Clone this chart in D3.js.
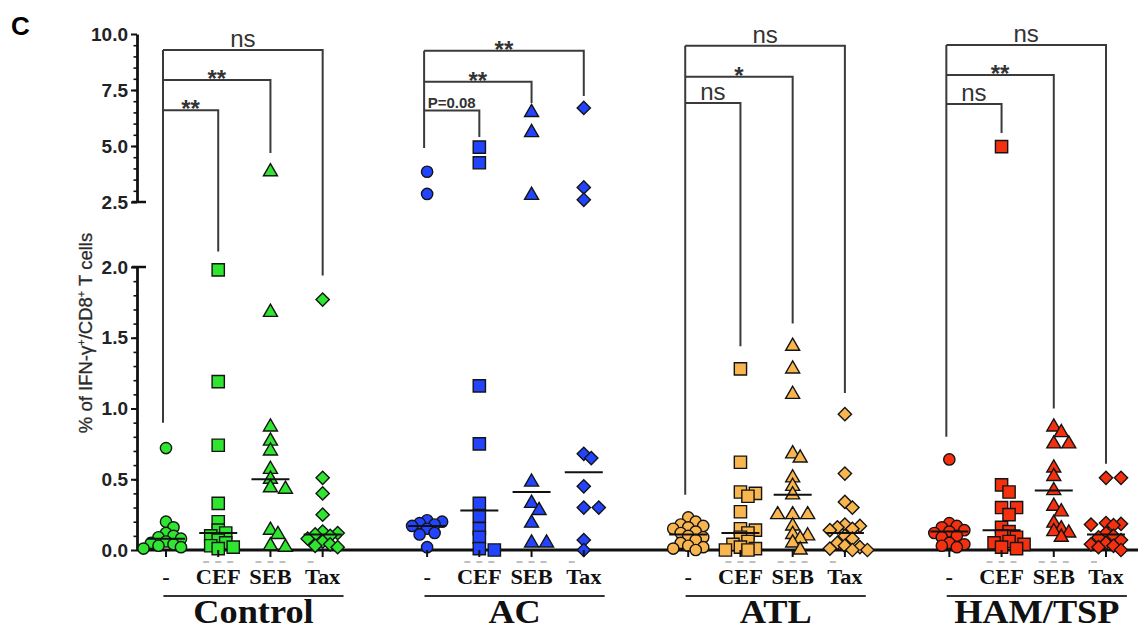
<!DOCTYPE html>
<html>
<head>
<meta charset="utf-8">
<script src="https://cdn.jsdelivr.net/npm/d3@7"></script>
<style>
  body { margin: 0; background: #fff; }
  text { font-family: Arial, "Liberation Sans", sans-serif; }
</style>
</head>
<body>
<div id="chart"></div>
<script>
// groups and stimuli
const groups = ["Control", "AC", "ATL", "HAM/TSP"];
const stimuli = ["-", "CEF", "SEB", "Tax"];
const groupColors = ["#2fe52f", "#2244ff", "#f9b54e", "#f5300f"];

// % of IFN-g+/CD8+ T cells, one list per stimulus
const controlValues = [
  [0.72, 0.2, 0.16, 0.12, 0.1, 0.09, 0.08, 0.06, 0.05, 0.04, 0.03, 0.02, 0.01],
  [1.98, 1.19, 0.74, 0.33, 0.2, 0.14, 0.12, 0.1, 0.07, 0.05, 0.03, 0.02, 0.01],
  [3.85, 1.68, 0.87, 0.77, 0.7, 0.57, 0.5, 0.44, 0.43, 0.14, 0.11, 0.03, 0.02],
  [1.77, 0.51, 0.4, 0.25, 0.13, 0.12, 0.11, 0.1, 0.08, 0.06, 0.04, 0.03, 0.02]
];
const acValues = [
  [3.85, 2.86, 0.21, 0.2, 0.19, 0.18, 0.17, 0.15, 0.12, 0.11, 0.02],
  [4.95, 4.25, 1.16, 0.75, 0.33, 0.24, 0.15, 0.09, 0.01, 0.0],
  [6.5, 5.6, 2.8, 0.48, 0.33, 0.28, 0.19, 0.05, 0.05],
  [6.7, 3.15, 2.6, 0.68, 0.65, 0.45, 0.3, 0.3, 0.07, 0.0]
];
const atlValues = [
  [0.23, 0.2, 0.18, 0.17, 0.16, 0.15, 0.13, 0.12, 0.1, 0.09, 0.07, 0.05, 0.03, 0.02, 0.01, 0.0],
  [1.28, 0.62, 0.41, 0.4, 0.38, 0.27, 0.15, 0.14, 0.12, 0.09, 0.06, 0.04, 0.02, 0.01, 0.0, 0.0],
  [1.44, 1.28, 1.1, 0.68, 0.65, 0.51, 0.45, 0.39, 0.25, 0.25, 0.25, 0.17, 0.11, 0.1, 0.08, 0.05, 0.0],
  [0.96, 0.54, 0.34, 0.3, 0.18, 0.17, 0.16, 0.15, 0.14, 0.1, 0.08, 0.05, 0.03, 0.02, 0.01, 0.0, 0.0]
];
const hamValues = [
  [0.64, 0.19, 0.17, 0.16, 0.14, 0.13, 0.12, 0.1, 0.09, 0.05, 0.04, 0.03, 0.02],
  [4.97, 0.46, 0.41, 0.3, 0.3, 0.25, 0.16, 0.13, 0.1, 0.09, 0.06, 0.05, 0.04, 0.02, 0.01],
  [0.87, 0.83, 0.75, 0.75, 0.58, 0.52, 0.42, 0.31, 0.27, 0.19, 0.15, 0.13, 0.12, 0.09],
  [0.51, 0.51, 0.19, 0.185, 0.18, 0.175, 0.12, 0.1, 0.09, 0.07, 0.05, 0.04, 0.03, 0.02, 0.0]
];

// median bars as drawn
const controlMedians = [0.08, 0.12, 0.5, 0.11];
const acMedians = [0.17, 0.28, 0.41, 0.55];
const atlMedians = [0.11, 0.12, 0.39, 0.12];
const hamMedians = [0.13, 0.14, 0.42, 0.11];

// significance brackets: "-" against Tax, SEB, CEF
const bracketTargets = [3, 2, 1];
const bracketLevels = [[9.29, 7.95, 6.6], [9.25, 7.87, 6.58], [9.48, 8.09, 6.92], [9.51, 8.17, 6.875]];
const bracketLabels = [["ns", "**", "**"], ["**", "**", "P=0.08"], ["ns", "*", "ns"], ["ns", "**", "ns"]];
const bracketLegEnds = [[1.94, 4.69, 2.11], [7.23, 6.92, 5.4], [1.11, 1.6, 1.44], [0.61, 1.0, 5.58]];
const bracketBaseEnds = [0.9, 4.91, 0.39, 0.8];

// axis ticks (broken axis)
const upperTicks = [2.5, 5.0, 7.5, 10.0];
const lowerTicks = [0.0, 0.5, 1.0, 1.5, 2.0];

const allValues = [controlValues, acValues, atlValues, hamValues];
const allMedians = [controlMedians, acMedians, atlMedians, hamMedians];

const width = 1140, height = 633;
const axisX = 137;

const svg = d3.select('#chart')
  .append('svg')
  .attr('width', width)
  .attr('height', height)
  .style('background-color', 'white');

const yLow = d3.scaleLinear().domain([0, 2]).range([550, 267]);
const yHigh = d3.scaleLinear().domain([2.5, 10]).range([202, 34]);
const y = v => v <= 2.25 ? yLow(v) : yHigh(v);

const x = d3.scaleLinear().domain([0, 18]).range([166, 1106]);
const slot = (g, s) => g * 5 + s;

// panel letter
svg.append('text')
  .attr('x', 11).attr('y', 35)
  .style('font-size', '26px').style('font-weight', 'bold')
  .text('C');

// y axis, two segments
function styleAxis(g) {
  g.select('.domain').attr('stroke', '#111').attr('stroke-width', 2.8);
  g.selectAll('.tick line').attr('stroke', '#111').attr('stroke-width', 2);
  g.selectAll('.tick text')
    .style('font-size', '19px').style('font-weight', 'bold')
    .style('font-family', 'Arial, "Liberation Sans", sans-serif')
    .attr('fill', '#222');
}

[[yHigh, upperTicks, d3.range(3, 10, 0.5)], [yLow, lowerTicks, d3.range(0.1, 2, 0.1)]]
  .forEach(([scale, major, minor]) => {
    svg.append('g')
      .attr('transform', `translate(${axisX},0)`)
      .call(d3.axisLeft(scale).tickValues(minor).tickSize(3.5).tickFormat(''))
      .call(g => g.select('.domain').remove())
      .call(g => g.selectAll('.tick line').attr('stroke', '#111').attr('stroke-width', 1.6));
    svg.append('g')
      .attr('transform', `translate(${axisX},0)`)
      .call(d3.axisLeft(scale).tickValues(major).tickFormat(d3.format('.1f'))
        .tickSize(6).tickSizeOuter(0).tickPadding(3))
      .call(styleAxis);
  });

// end caps at the break
[yHigh(2.5), yLow(2.0)].forEach(py => {
  svg.append('line')
    .attr('x1', axisX - 5).attr('x2', axisX + 9)
    .attr('y1', py).attr('y2', py)
    .attr('stroke', '#111').attr('stroke-width', 2.5);
});

// y label
const yLabel = svg.append('text')
  .attr('transform', `translate(92, 333) rotate(-90)`)
  .attr('text-anchor', 'middle')
  .style('font-size', '18.5px')
  .attr('fill', '#2a2a2a')
  .attr('stroke', '#2a2a2a').attr('stroke-width', 0.3);
yLabel.append('tspan').text('% of IFN-γ');
yLabel.append('tspan').attr('dy', -7).style('font-size', '11px').text('+');
yLabel.append('tspan').attr('dy', 7).text('/CD8');
yLabel.append('tspan').attr('dy', -7).style('font-size', '11px').text('+');
yLabel.append('tspan').attr('dy', 7).text(' T cells');

// x baseline
svg.append('line')
  .attr('x1', axisX).attr('x2', 1138)
  .attr('y1', yLow(0)).attr('y2', yLow(0))
  .attr('stroke', '#111').attr('stroke-width', 2.8);

// brackets
const bracketColor = '#3a3a3a';
groups.forEach((grp, g) => {
  const x0 = x(slot(g, 0)) - 3;
  svg.append('line')
    .attr('x1', x0).attr('x2', x0)
    .attr('y1', y(bracketLevels[g][0])).attr('y2', y(bracketBaseEnds[g]))
    .attr('stroke', bracketColor).attr('stroke-width', 2);
  bracketTargets.forEach((t, i) => {
    const x1 = x(slot(g, t));
    const ly = y(bracketLevels[g][i]);
    svg.append('path')
      .attr('d', `M${x0},${ly}H${x1}V${y(bracketLegEnds[g][i])}`)
      .attr('fill', 'none')
      .attr('stroke', bracketColor).attr('stroke-width', 2);
    const label = bracketLabels[g][i];
    const isStar = label.startsWith('*');
    const isP = label.startsWith('P');
    svg.append('text')
      .attr('x', (x0 + x1) / 2)
      .attr('y', isStar ? ly + 7 : ly - 3)
      .attr('text-anchor', 'middle')
      .style('font-size', isStar ? '24px' : (isP ? '15px' : '24px'))
      .style('font-weight', isStar || isP ? 'bold' : 'normal')
      .attr('fill', '#333')
      .text(label);
  });
});

// shapes
const symbolTypes = [d3.symbolCircle, d3.symbolSquare, d3.symbolTriangle, d3.symbolSquare];
const symbolSizes = [100, 150, 85, 88];
const symbolRotate = [0, 0, 0, 45];

// compact dodge: stacked points spread a little sideways and may overlap
function dodge(values, cx) {
  const placed = [];
  const order = values.map((v, i) => i).sort((a, b) => values[b] - values[a]);
  const step = 7.5, minDist = 8, maxK = 6;
  return order.map(i => {
    const py = y(values[i]);
    let best = null, bestScore = -1;
    for (let k = 0; k <= maxK; k++) {
      const off = (k % 2 ? 1 : -1) * Math.ceil(k / 2) * step;
      const px = cx + off;
      const near = placed.length ? d3.min(placed, p => Math.hypot(p[0] - px, p[1] - py)) : Infinity;
      if (near >= minDist) { best = px; break; }
      if (near > bestScore) { bestScore = near; best = px; }
    }
    placed.push([best, py]);
    return { v: values[i], px: best, py };
  });
}

groups.forEach((grp, g) => {
  stimuli.forEach((stim, s) => {
    const cx = x(slot(g, s));
    const pts = dodge(allValues[g][s], cx);
    svg.append('g')
      .selectAll('path')
      .data(pts)
      .enter().append('path')
      .attr('d', d3.symbol().type(symbolTypes[s]).size(symbolSizes[s]))
      .attr('transform', d => `translate(${d.px},${d.py}) rotate(${symbolRotate[s]})`)
      .attr('fill', groupColors[g])
      .attr('stroke', '#141414')
      .attr('stroke-width', 1.4);

    // median bar
    const my = y(allMedians[g][s]);
    svg.append('line')
      .attr('x1', cx - 19).attr('x2', cx + 19)
      .attr('y1', my).attr('y2', my)
      .attr('stroke', '#111').attr('stroke-width', 2);

    // tick under the axis
    svg.append('line')
      .attr('x1', cx).attr('x2', cx)
      .attr('y1', yLow(0)).attr('y2', yLow(0) + 7)
      .attr('stroke', '#111').attr('stroke-width', 2);

    // faint dashes
    const nDash = [0, 3, 3, 1][s];
    for (let d = 0; d < nDash; d++) {
      const dx = cx - 12 + d * 12;
      svg.append('line')
        .attr('x1', dx - 3).attr('x2', dx + 3)
        .attr('y1', 562).attr('y2', 562)
        .attr('stroke', '#aaa').attr('stroke-width', 1.5);
    }

    svg.append('text')
      .attr('transform', `translate(${cx},584) scale(1.12,1)`)
      .attr('text-anchor', 'middle')
      .style('font-family', '"Liberation Serif", "Times New Roman", serif')
      .style('font-weight', 'bold')
      .style('font-size', '20px')
      .attr('fill', '#111')
      .text(stim);
  });

  const gx0 = x(slot(g, 0) - 0.05), gx1 = x(slot(g, 3) + 0.4);
  svg.append('line')
    .attr('x1', gx0).attr('x2', gx1)
    .attr('y1', 596).attr('y2', 596)
    .attr('stroke', '#333').attr('stroke-width', 2);
  svg.append('text')
    .attr('transform', `translate(${(gx0 + gx1) / 2},623) scale(1.1,1)`)
    .attr('text-anchor', 'middle')
    .style('font-family', '"Liberation Serif", "Times New Roman", serif')
    .style('font-weight', 'bold')
    .style('font-size', '33px')
    .attr('fill', '#111')
    .text(grp);
});
</script>
</body>
</html>
